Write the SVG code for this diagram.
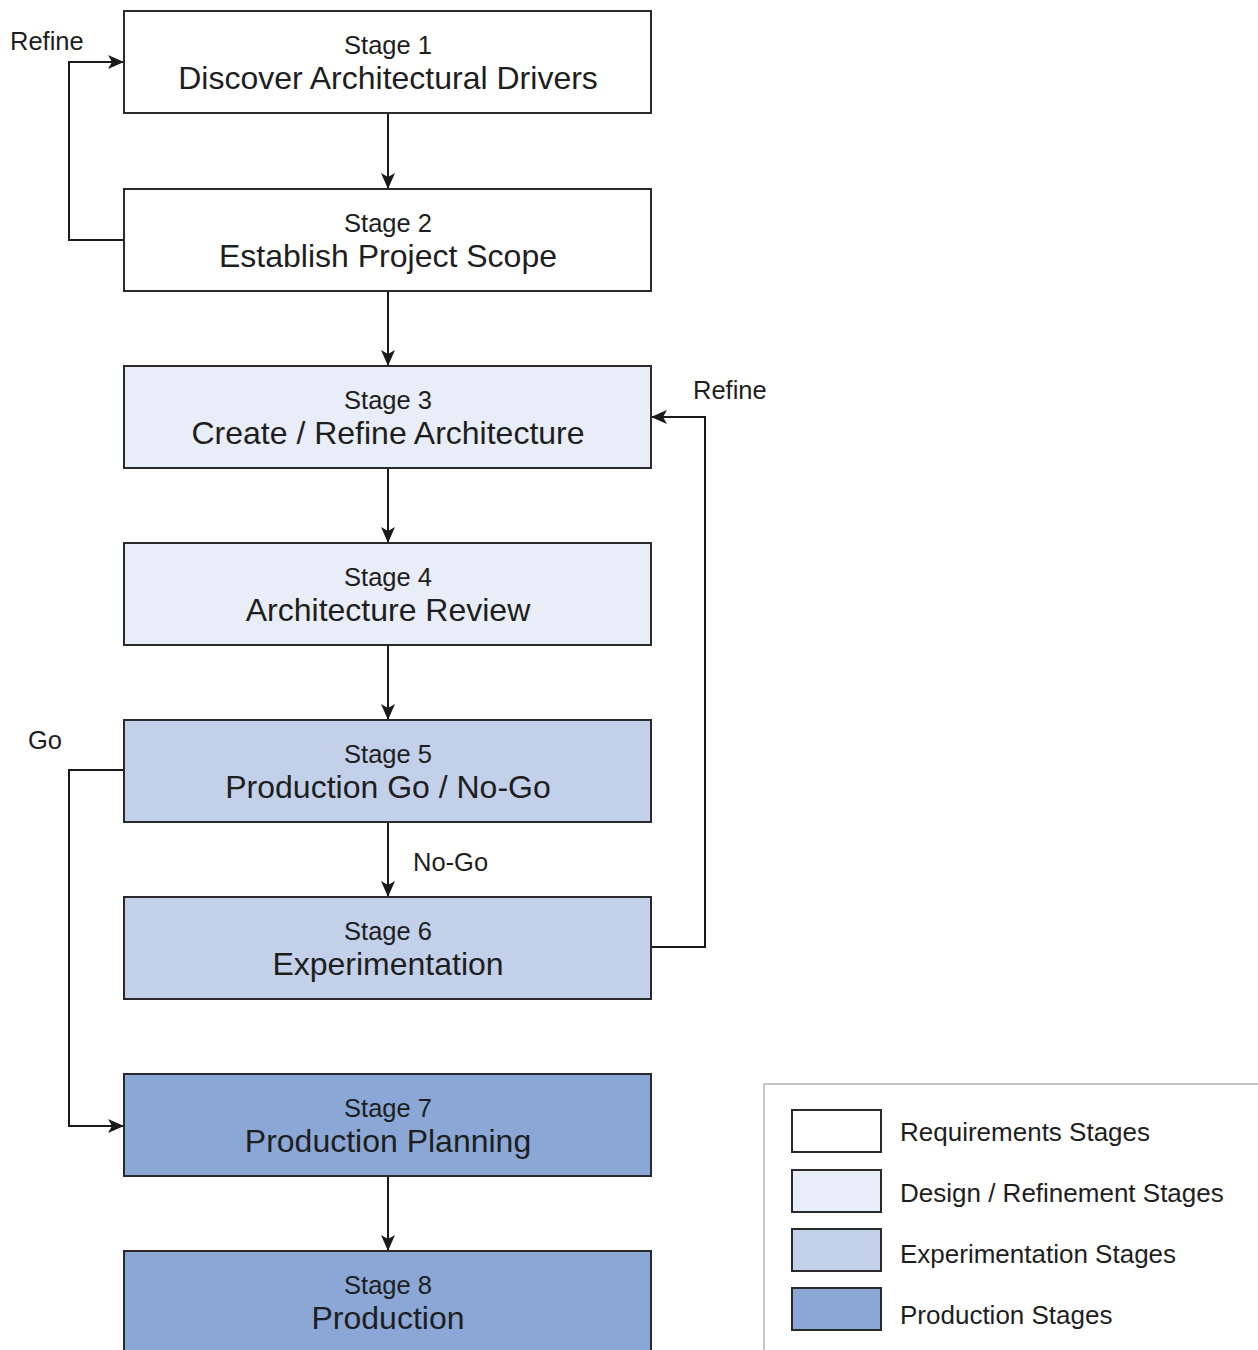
<svg xmlns="http://www.w3.org/2000/svg" width="1258" height="1350" viewBox="0 0 1258 1350">
<defs>
<marker id="ah" viewBox="0 0 16 14" refX="16" refY="7" markerWidth="16" markerHeight="14" markerUnits="userSpaceOnUse" orient="auto">
<path d="M0,0 L16,7 L0,14 L4,7 Z" fill="#1a1a1a"/>
</marker>
</defs>
<style>
.box{stroke:#2a2a2a;stroke-width:2}
.req{fill:#ffffff}
.des{fill:#e8edf7}
.exp{fill:#c3d0ea}
.pro{fill:#8aa7d6}
.st{font-family:"Liberation Sans",Arial,sans-serif;font-size:25.5px;fill:#1e1e1e;text-anchor:middle}
.ti{font-family:"Liberation Sans",Arial,sans-serif;font-size:32px;fill:#1e1e1e;text-anchor:middle}
.lb{font-family:"Liberation Sans",Arial,sans-serif;font-size:25.5px;fill:#1e1e1e}
.lg{font-family:"Liberation Sans",Arial,sans-serif;font-size:26px;fill:#1e1e1e}
.cn{fill:none;stroke:#1a1a1a;stroke-width:2}
</style>
<rect width="1258" height="1350" fill="#ffffff"/>
<g id="connectors">
<line class="cn" x1="388" y1="113" x2="388" y2="189" marker-end="url(#ah)"/>
<line class="cn" x1="388" y1="291" x2="388" y2="366" marker-end="url(#ah)"/>
<line class="cn" x1="388" y1="468" x2="388" y2="543" marker-end="url(#ah)"/>
<line class="cn" x1="388" y1="645" x2="388" y2="720" marker-end="url(#ah)"/>
<line class="cn" x1="388" y1="822" x2="388" y2="897" marker-end="url(#ah)"/>
<line class="cn" x1="388" y1="1176" x2="388" y2="1251" marker-end="url(#ah)"/>
<polyline class="cn" points="124,240 69,240 69,62 124,62" marker-end="url(#ah)"/>
<polyline class="cn" points="651,947 705,947 705,417 651,417" marker-end="url(#ah)"/>
<polyline class="cn" points="124,770 69,770 69,1126 124,1126" marker-end="url(#ah)"/>
<text class="lb" x="10" y="50">Refine</text>
<text class="lb" x="693" y="399">Refine</text>
<text class="lb" x="28" y="749">Go</text>
<text class="lb" x="413" y="871">No-Go</text>
</g>
<g id="stage1"><rect class="box req" x="124" y="11" width="527" height="102"/><text class="st" x="388" y="54">Stage 1</text><text class="ti" x="388" y="89">Discover Architectural Drivers</text></g>
<g id="stage2"><rect class="box req" x="124" y="189" width="527" height="102"/><text class="st" x="388" y="232">Stage 2</text><text class="ti" x="388" y="267">Establish Project Scope</text></g>
<g id="stage3"><rect class="box des" x="124" y="366" width="527" height="102"/><text class="st" x="388" y="409">Stage 3</text><text class="ti" x="388" y="444">Create / Refine Architecture</text></g>
<g id="stage4"><rect class="box des" x="124" y="543" width="527" height="102"/><text class="st" x="388" y="586">Stage 4</text><text class="ti" x="388" y="621">Architecture Review</text></g>
<g id="stage5"><rect class="box exp" x="124" y="720" width="527" height="102"/><text class="st" x="388" y="763">Stage 5</text><text class="ti" x="388" y="798">Production Go / No-Go</text></g>
<g id="stage6"><rect class="box exp" x="124" y="897" width="527" height="102"/><text class="st" x="388" y="940">Stage 6</text><text class="ti" x="388" y="975">Experimentation</text></g>
<g id="stage7"><rect class="box pro" x="124" y="1074" width="527" height="102"/><text class="st" x="388" y="1117">Stage 7</text><text class="ti" x="388" y="1152">Production Planning</text></g>
<g id="stage8"><rect class="box pro" x="124" y="1251" width="527" height="110"/><text class="st" x="388" y="1294">Stage 8</text><text class="ti" x="388" y="1329">Production</text></g>
<g id="legend">
<path d="M764,1350 V1084 H1258" fill="none" stroke="#b5b5b5" stroke-width="1.5"/>
<rect class="box req" x="792" y="1110" width="89" height="42"/>
<rect class="box des" x="792" y="1170" width="89" height="42"/>
<rect class="box exp" x="792" y="1229" width="89" height="42"/>
<rect class="box pro" x="792" y="1288" width="89" height="42"/>
<text class="lg" x="900" y="1141">Requirements Stages</text>
<text class="lg" x="900" y="1202">Design / Refinement Stages</text>
<text class="lg" x="900" y="1263">Experimentation Stages</text>
<text class="lg" x="900" y="1324">Production Stages</text>
</g>
</svg>
